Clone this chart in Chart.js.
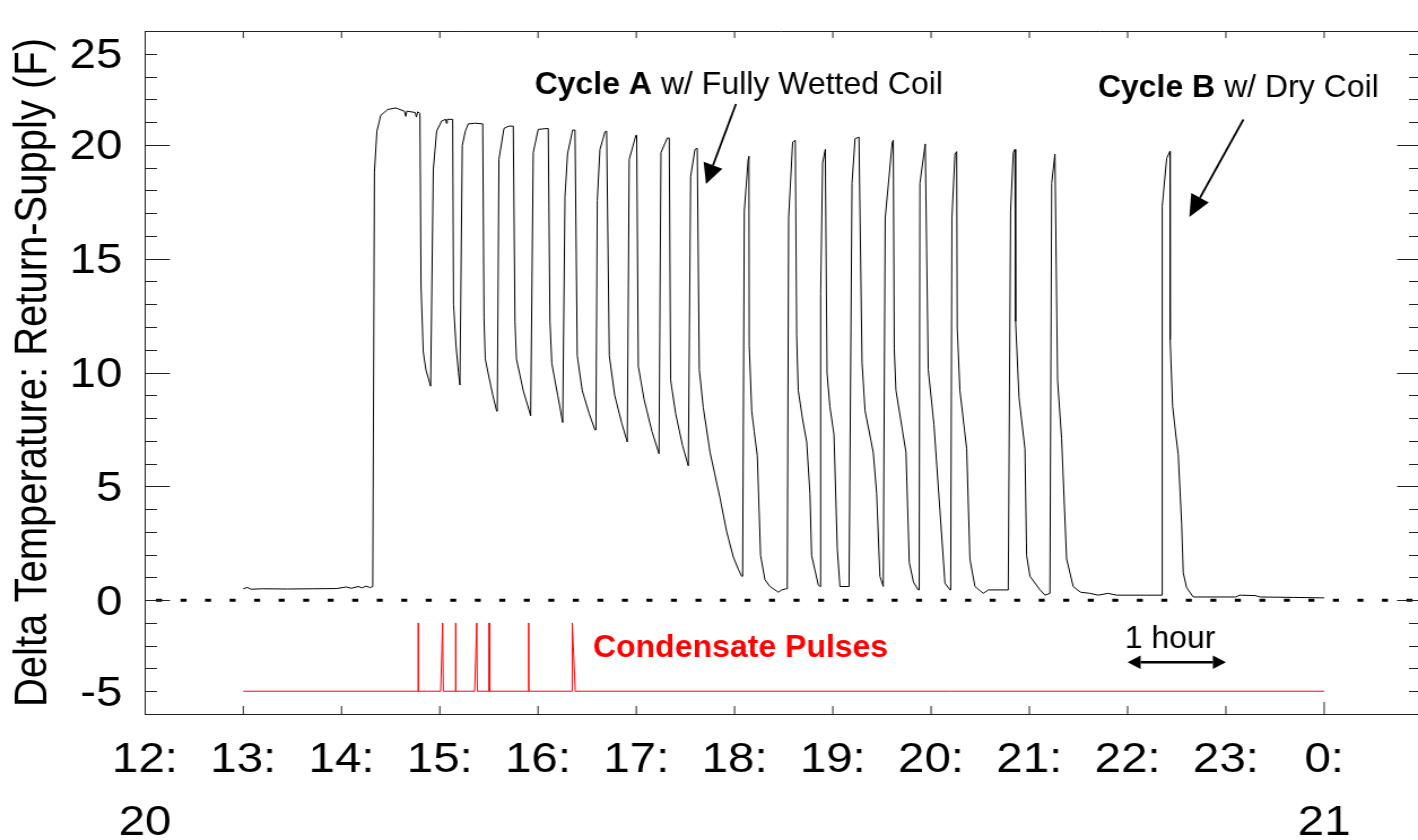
<!DOCTYPE html>
<html>
<head>
<meta charset="utf-8">
<script src="https://cdn.jsdelivr.net/npm/chart.js@4.4.0/dist/chart.umd.min.js"></script>
<style>
html,body{margin:0;padding:0;background:#fff;overflow:hidden;}
#wrap{width:1255px;height:840px;transform:scaleX(1.129880478);transform-origin:0 0;}
canvas{display:block;}
</style>
</head>
<body>
<div id="wrap"><canvas id="c" width="1255" height="840" style="width:1255px;height:840px"></canvas></div>
<script>
// ---------------- DATA ----------------
// Delta temperature (Return - Supply, F) vs. time of day (hours)
const deltaTempPoints = [
  [13.00,0.50],[13.04,0.56],[13.08,0.48],[13.20,0.50],[13.45,0.49],[13.70,0.50],[13.95,0.51],[14.05,0.58],[14.10,0.52],[14.17,0.60],[14.21,0.54],[14.25,0.62],[14.29,0.55],[14.318,0.60],
  [14.335,18.8],[14.36,20.6],[14.40,21.3],[14.47,21.55],[14.55,21.62],[14.64,21.48],[14.655,21.25],[14.665,21.48],[14.75,21.42],[14.762,21.22],[14.775,21.45],[14.798,21.38],
  [14.809,13.8],[14.832,10.9],[14.86,10.1],[14.907,9.4],
  [14.934,18.9],[14.968,20.6],[15.019,21.05],[15.06,21.12],[15.068,20.95],[15.076,21.12],[15.131,21.12],
  [15.140,13.0],[15.165,11.2],[15.19,10.0],[15.205,9.45],
  [15.209,9.45],[15.229,19.97],[15.26,20.6],[15.29,20.92],[15.36,20.95],[15.437,20.92],
  [15.450,12.4],[15.463,10.6],[15.50,9.8],[15.54,9.0],[15.579,8.3],
  [15.585,8.3],[15.602,19.36],[15.653,20.72],[15.70,20.82],[15.748,20.82],
  [15.765,12.25],[15.78,10.6],[15.85,9.2],[15.925,8.1],
  [15.928,8.1],[15.951,19.66],[16.002,20.68],[16.104,20.72],
  [16.121,12.25],[16.14,10.4],[16.20,9.0],[16.251,7.8],
  [16.257,7.8],[16.274,17.7],[16.30,19.6],[16.352,20.65],[16.376,20.65],
  [16.399,10.74],[16.45,9.2],[16.52,8.2],[16.579,7.48],
  [16.589,7.48],[16.603,17.55],[16.63,19.8],[16.681,20.57],[16.698,20.6],
  [16.725,10.74],[16.78,9.0],[16.85,7.8],[16.908,6.95],
  [16.915,6.95],[16.928,19.36],[16.996,20.42],[17.004,20.42],
  [17.020,10.28],[17.08,8.8],[17.16,7.4],[17.231,6.43],
  [17.234,6.43],[17.251,19.66],[17.315,20.3],[17.335,20.3],
  [17.349,9.68],[17.40,8.2],[17.47,6.8],[17.529,5.9],
  [17.536,5.9],[17.553,18.6],[17.597,19.8],[17.620,19.85],
  [17.641,10.13],[17.681,8.47],[17.75,6.5],[17.851,4.5],[17.92,3.0],[17.987,1.9],[18.038,1.36],[18.072,1.05],
  [18.082,1.05],[18.099,17.09],[18.139,19.39],[18.146,19.5],
  [18.149,11.19],[18.174,8.32],[18.20,7.4],[18.231,6.35],[18.265,1.96],[18.309,0.9],[18.36,0.6],[18.445,0.35],[18.48,0.45],[18.523,0.5],
  [18.536,0.5],[18.550,16.79],[18.591,20.12],[18.618,20.2],
  [18.632,11.64],[18.648,9.22],[18.69,8.0],[18.734,6.95],[18.767,4.68],[18.784,1.96],[18.852,0.67],[18.869,0.6],
  [18.873,0.6],[18.876,13.46],[18.896,19.2],[18.923,19.8],
  [18.941,9.98],[18.97,8.5],[19.012,7.26],[19.045,2.27],[19.072,0.6],[19.165,0.6],
  [19.168,0.6],[19.195,18.3],[19.226,20.27],[19.266,20.34],
  [19.297,10.43],[19.328,8.32],[19.411,6.5],[19.446,4.68],[19.479,1.05],[19.513,0.6],
  [19.516,0.6],[19.533,16.79],[19.605,20.12],[19.615,20.2],
  [19.625,11.04],[19.642,9.22],[19.744,6.5],[19.778,1.66],[19.82,0.8],[19.869,0.45],
  [19.879,0.45],[19.886,18.3],[19.940,20.04],
  [19.971,10.13],[20.029,7.71],[20.090,3.93],[20.141,0.75],[20.192,0.45],
  [20.199,0.45],[20.212,16.79],[20.243,19.59],[20.260,19.7],
  [20.266,11.95],[20.293,9.22],[20.362,6.65],[20.395,1.81],[20.446,0.6],[20.531,0.3],[20.582,0.45],[20.785,0.45],
  [20.788,0.45],[20.809,17.09],[20.836,19.66],[20.853,19.8],
  [20.860,12.25],[20.894,8.92],[20.955,6.65],[20.972,1.96],[21.006,1.05],[21.108,0.45],[21.159,0.22],[21.209,0.3],
  [21.212,0.3],[21.227,18.3],[21.260,19.59],
  [21.287,9.68],[21.328,7.1],[21.379,1.81],[21.446,0.6],[21.52,0.35],[21.616,0.3],[21.70,0.22],[21.80,0.3],[21.888,0.22],[22.00,0.22],[22.19,0.22],[22.345,0.22],
  [22.352,17.3],[22.397,19.4],[22.431,19.72],
  [22.433,11.44],[22.458,8.51],[22.492,7.21],[22.515,6.4],[22.550,3.31],[22.566,1.2],[22.600,0.55],[22.668,0.14],[23.10,0.14],[23.14,0.22],[23.30,0.2],[23.35,0.14],[23.70,0.12],[24.00,0.10]
];

// Condensate pulse trace (offset baseline, pulses)
const condensatePoints = [
  [13.0,-4],[14.780,-4],[14.781,-1],[14.782,-4],[15.009,-4],[15.029,-1],[15.036,-4],
  [15.161,-4],[15.162,-1],[15.163,-4],[15.355,-4],[15.376,-1],[15.382,-4],
  [15.503,-4],[15.504,-1],[15.505,-4],[15.904,-4],[15.905,-1],[15.906,-4],
  [16.347,-4],[16.348,-1],[16.379,-4],[24.0,-4]
];

// Zero reference line
const zeroLinePoints = [[12, 0], [24.955, 0]];

// Axis ticks and labels
const xTickValues = [12,13,14,15,16,17,18,19,20,21,22,23,24];
const xTickLabels = [['12:','20'],['13:'],['14:'],['15:'],['16:'],['17:'],['18:'],['19:'],['20:'],['21:'],['22:'],['23:'],['0:','21']];
const yLabelValues = [24, 20, 15, 10, 5, 0, -4];
const yLabelTexts  = ['25','20','15','10','5','0','-5'];
const yMinorTickValues = [-5,-4,-3,-2,-1,0,1,2,3,4,5,6,7,8,9,10,11,12,13,14,15,16,17,18,19,20,21,22,23,24,25];

// Annotations (data coordinates)
const annotationTexts = [
  {t:15.965, v:22.217, parts:[['bold','Cycle A'],['normal',' w/ Fully Wetted Coil']], color:'#000'},
  {t:21.697, v:22.11,  parts:[['bold','Cycle B'],['normal',' w/ Dry Coil']], color:'#000'},
  {t:16.559, v:-2.483, parts:[['bold','Condensate Pulses']], color:'#ff0000'},
  {t:21.970, v:-2.114, parts:[['normal','1 hour']], color:'#000'}
];
const annotationArrows = [
  {from:[18.014, 21.793], to:[17.709, 18.279], double:false, head:20, half:10, width:2},
  {from:[23.178, 21.112], to:[22.628, 16.83],  double:false, head:22, half:10, width:2},
  {from:[22.0, -2.729],   to:[23.0, -2.729],   double:true,  head:13, half:6.7, width:2.5}
];

// ---------------- RENDER ----------------
const K = 1418 / 1255;            // horizontal stretch of the figure
const FONT = "'Liberation Sans', Arial, Helvetica, sans-serif";
const FRAME = '#222';
Chart.defaults.font.family = FONT;
Chart.defaults.color = '#000';

const toXY = arr => arr.map(([x, y]) => ({x, y}));

const frameTicks = {
  id: 'frameTicks',
  afterDraw(chart) {
    const {ctx, chartArea: a, scales: {x, y}} = chart;
    ctx.save();
    ctx.strokeStyle = FRAME;
    ctx.lineWidth = 1;
    ctx.beginPath();
    const ty = Math.round(a.top) + 0.5;
    ctx.moveTo(a.left, ty); ctx.lineTo(a.right, ty);
    for (const v of yMinorTickValues) {
      const py = Math.round(y.getPixelForValue(v)) + 0.5;
      const major = v % 5 === 0;
      const L = (major ? 25 : 12) / K;
      const R = (major ? 21 : 9) / K;
      ctx.moveTo(a.left, py); ctx.lineTo(a.left + L, py);
      ctx.moveTo(a.right, py); ctx.lineTo(a.right - R, py);
    }
    for (const h of xTickValues) {
      if (h === xTickValues[0]) continue;
      const px = x.getPixelForValue(h);
      ctx.moveTo(px, a.top); ctx.lineTo(px, a.top + 7);
      ctx.moveTo(px, a.bottom); ctx.lineTo(px, a.bottom - (h === 24 ? 12 : 8));
    }
    ctx.stroke();
    ctx.restore();
  }
};

function head(ctx, fx, fy, tx, ty, len, half) {
  const dx = tx - fx, dy = ty - fy, L = Math.hypot(dx, dy);
  const ux = dx / L, uy = dy / L;
  const bx = tx - ux * len, by = ty - uy * len;
  ctx.beginPath();
  ctx.moveTo(tx, ty);
  ctx.lineTo(bx - uy * half, by + ux * half);
  ctx.lineTo(bx + uy * half, by - ux * half);
  ctx.closePath();
  ctx.fill();
  return [bx, by];
}

const annotations = {
  id: 'annotations',
  afterDraw(chart) {
    const {ctx, scales: {x, y}} = chart;
    const P = (t, v) => [x.getPixelForValue(t) * K, y.getPixelForValue(v)];
    ctx.save();
    ctx.scale(1 / K, 1);
    ctx.textBaseline = 'alphabetic';
    ctx.textAlign = 'left';
    for (const a of annotationTexts) {
      let [sx, sy] = P(a.t, a.v);
      ctx.fillStyle = a.color;
      for (const [w, txt] of a.parts) {
        ctx.font = `${w} 32px ${FONT}`;
        ctx.fillText(txt, sx, sy);
        sx += ctx.measureText(txt).width;
      }
    }
    ctx.fillStyle = '#000';
    ctx.strokeStyle = '#000';
    for (const ar of annotationArrows) {
      const [fx, fy] = P(ar.from[0], ar.from[1]);
      const [tx, ty] = P(ar.to[0], ar.to[1]);
      ctx.lineWidth = ar.width;
      const [bx, by] = head(ctx, fx, fy, tx, ty, ar.head, ar.half);
      let sx = fx, sy = fy;
      if (ar.double) {
        [sx, sy] = head(ctx, tx, ty, fx, fy, ar.head, ar.half);
      }
      ctx.beginPath();
      ctx.moveTo(sx, sy);
      ctx.lineTo(bx, by);
      ctx.stroke();
    }
    ctx.restore();
  }
};

new Chart(document.getElementById('c'), {
  type: 'line',
  data: {
    datasets: [
      {label: 'Delta Temperature', data: toXY(deltaTempPoints), borderColor: '#000', borderWidth: 1,
       pointRadius: 0, tension: 0, borderJoinStyle: 'bevel', fill: false},
      {label: 'Condensate Pulses', data: toXY(condensatePoints), borderColor: '#ff0000', borderWidth: 1,
       pointRadius: 0, tension: 0, borderJoinStyle: 'bevel', fill: false},
      {label: 'Zero', data: toXY(zeroLinePoints), borderColor: '#000', borderWidth: 3,
       borderDash: [5.3, 16.4], borderDashOffset: 11.9, borderCapStyle: 'butt', pointRadius: 0, fill: false}
    ]
  },
  options: {
    responsive: false,
    animation: false,
    devicePixelRatio: 1,
    events: [],
    layout: {padding: {top: 31, left: 0, right: 0, bottom: 0}},
    plugins: {legend: {display: false}, tooltip: {enabled: false}},
    scales: {
      x: {
        type: 'linear', min: 12, max: 24.955,
        grid: {display: false},
        border: {display: true, color: FRAME, width: 1},
        afterBuildTicks: s => { s.ticks = xTickValues.map(v => ({value: v})); },
        afterFit: s => { s.height = 126; s.paddingLeft = 0; s.paddingRight = 0; },
        ticks: {autoSkip: false, maxRotation: 0, minRotation: 0, padding: 7, color: '#000',
                font: {family: FONT, size: 42, lineHeight: 1.5},
                callback: (v, i) => xTickLabels[i]}
      },
      y: {
        type: 'linear', min: -5, max: 25,
        grid: {display: false},
        border: {display: true, color: FRAME, width: 1},
        afterBuildTicks: s => { s.ticks = yLabelValues.map(v => ({value: v})); },
        afterFit: s => { s.width = 128.3; s.paddingTop = 0; s.paddingBottom = 0; },
        ticks: {autoSkip: false, padding: 12, labelOffset: 3, color: '#000',
                font: {family: FONT, size: 42},
                callback: (v, i) => yLabelTexts[i]},
        title: {display: true, text: 'Delta Temperature: Return-Supply (F)', color: '#000',
                font: {family: FONT, size: 40}, padding: {top: 6, bottom: 0}}
      }
    }
  },
  plugins: [frameTicks, annotations]
});
</script>
</body>
</html>
